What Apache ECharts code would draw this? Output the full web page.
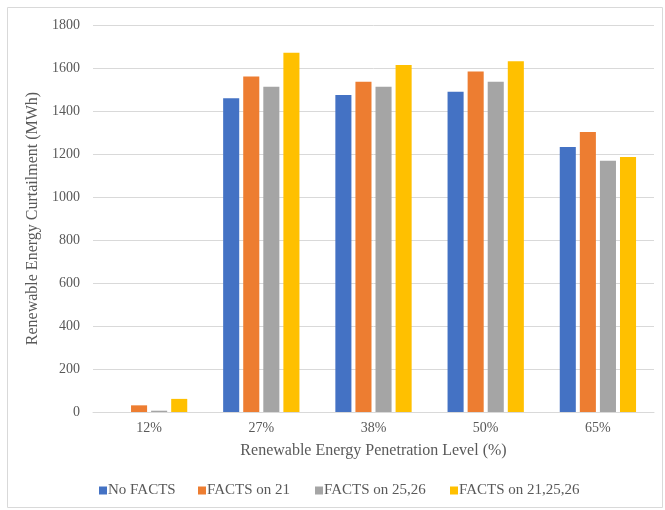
<!DOCTYPE html>
<html>
<head>
<meta charset="utf-8">
<script src="https://cdn.jsdelivr.net/npm/echarts@6/dist/echarts.min.js"></script>
<style>html,body{margin:0;padding:0;background:#fff}#c{width:665px;height:510px}</style>
</head>
<body>
<div id="c"></div>
<script>
const categories = ['12%', '27%', '38%', '50%', '65%'];
const seriesNames = ['No FACTS', 'FACTS on 21', 'FACTS on 25,26', 'FACTS on 21,25,26'];
const noFacts = [0, 1459, 1474, 1489, 1233];
const facts21 = [31, 1560, 1536, 1584, 1302];
const facts2526 = [6, 1513, 1513, 1536, 1169];
const facts212526 = [61, 1671, 1614, 1631, 1186];
const colors = ['#4472C4', '#ED7D31', '#A5A5A5', '#FFC000'];

const font = 'Liberation Serif, Times New Roman, serif';
const txt = '#595959';
const chart = echarts.init(document.getElementById('c'));
const vals = [noFacts, facts21, facts2526, facts212526];
const legendLeft = [99, 198, 315, 450];
chart.setOption({
  animation: false,
  textStyle: { fontFamily: font },
  graphic: [{
    type: 'rect', left: 5, top: 5, silent: true,
    shape: { width: 655, height: 500 },
    style: { fill: 'none', stroke: '#d9d9d9', lineWidth: 1 }
  }],
  grid: { left: 93, right: 11, top: 25, bottom: 98 },
  legend: seriesNames.map((n, i) => ({
    left: legendLeft[i], top: 483, itemWidth: 8, itemHeight: 8, itemGap: 0,
    icon: 'rect', padding: 0,
    textStyle: { fontFamily: font, fontSize: 15, color: txt, padding: [0, 0, 0, -4] },
    data: [n]
  })),
  xAxis: {
    type: 'category', data: categories,
    name: 'Renewable Energy Penetration Level (%)',
    nameLocation: 'middle', nameGap: 31,
    nameTextStyle: { fontFamily: font, fontSize: 16, color: txt },
    axisLine: { lineStyle: { color: '#d9d9d9' } },
    axisTick: { show: false },
    axisLabel: { fontFamily: font, fontSize: 14, color: txt, margin: 9 }
  },
  yAxis: {
    type: 'value', min: 0, max: 1800, interval: 200,
    name: 'Renewable Energy Curtailment (MWh)',
    nameLocation: 'middle', nameGap: 51,
    nameTextStyle: { fontFamily: font, fontSize: 16, color: txt },
    axisLine: { show: false }, axisTick: { show: false },
    axisLabel: { fontFamily: font, fontSize: 14, color: txt, margin: 13, formatter: v => String(v) },
    splitLine: { lineStyle: { color: '#d9d9d9' } }
  },
  series: seriesNames.map((n, i) => ({
    name: n, type: 'bar', data: vals[i],
    barGap: '25%', barCategoryGap: '32%',
    itemStyle: { color: colors[i] }
  }))
});
</script>
</body>
</html>
